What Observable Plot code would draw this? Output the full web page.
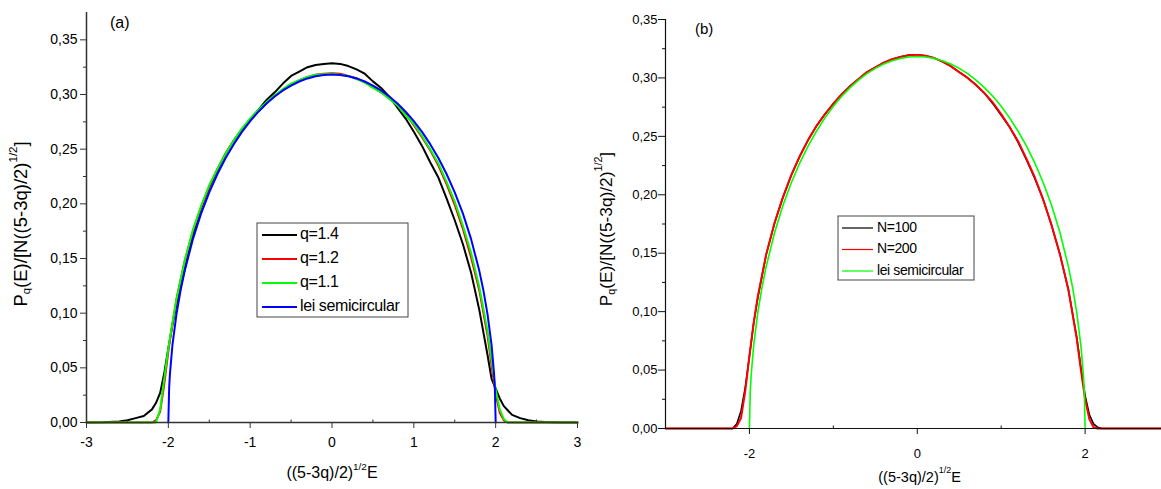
<!DOCTYPE html>
<html><head><meta charset="utf-8">
<script src="https://cdn.jsdelivr.net/npm/d3@7"></script>
<script src="https://cdn.jsdelivr.net/npm/@observablehq/plot@0.6"></script>
<style>
body{margin:0;background:#fff;}
#wrap{position:relative;width:1161px;height:489px;overflow:hidden;background:#fff;}
#a{position:absolute;left:0;top:0;}
#b{position:absolute;left:580px;top:0;}
svg text{font-family:"Liberation Sans",Arial,sans-serif;}
</style>
</head><body>
<div id="wrap"><div id="a"></div><div id="b"></div></div>
<script>
// ---------- Panel (a) data ----------
const xA = [-3,-2.8,-2.6,-2.5,-2.4,-2.3,-2.2,-2.15,-2.1,-2.05,-2.0,-1.95,-1.9,-1.8,-1.7,-1.6,-1.5,-1.4,-1.3,-1.2,-1.1,-1.0,-0.9,-0.8,-0.7,-0.6,-0.5,-0.4,-0.3,-0.2,-0.1,0,0.1,0.2,0.3,0.4,0.5,0.6,0.7,0.8,0.9,1.0,1.1,1.2,1.3,1.4,1.5,1.6,1.7,1.8,1.9,1.95,2.0,2.05,2.1,2.15,2.2,2.3,2.4,2.5,2.6,2.8,3.0];
const q14 = [0,0.0003,0.001,0.002,0.004,0.006,0.012,0.018,0.027,0.045,0.068,0.089,0.108,0.140,0.172,0.196,0.215,0.231,0.246,0.258,0.268,0.277,0.286,0.295,0.302,0.310,0.317,0.321,0.325,0.327,0.328,0.3285,0.328,0.326,0.323,0.319,0.312,0.306,0.298,0.288,0.278,0.266,0.253,0.238,0.224,0.205,0.185,0.163,0.137,0.103,0.062,0.040,0.031,0.022,0.015,0.011,0.007,0.004,0.002,0.001,0.0005,0.0001,0];
const q12 = [0,0,0,0,0,0,0,0.002,0.010,0.035,0.065,0.090,0.113,0.148,0.175,0.197,0.216,0.232,0.246,0.258,0.268,0.277,0.285,0.292,0.299,0.304,0.309,0.313,0.316,0.318,0.319,0.3195,0.319,0.317,0.315,0.311,0.307,0.302,0.297,0.290,0.282,0.272,0.261,0.249,0.235,0.218,0.199,0.177,0.151,0.121,0.080,0.052,0.026,0.009,0.002,0,0,0,0,0,0,0,0];
const q11 = [0,0,0,0,0,0,0,0,0.012,0.040,0.068,0.091,0.113,0.148,0.176,0.198,0.217,0.232,0.246,0.258,0.269,0.278,0.286,0.293,0.299,0.305,0.310,0.313,0.316,0.318,0.3185,0.319,0.318,0.317,0.314,0.311,0.306,0.302,0.296,0.290,0.281,0.273,0.262,0.250,0.237,0.220,0.202,0.180,0.155,0.124,0.084,0.057,0.030,0.012,0.003,0,0,0,0,0,0,0,0];
// semicircle law values
const xSemi = [-2,-1.99,-1.98,-1.95,-1.9,-1.85,-1.8,-1.7,-1.6,-1.5,-1.4,-1.3,-1.2,-1.1,-1.0,-0.9,-0.8,-0.7,-0.6,-0.5,-0.4,-0.3,-0.2,-0.1,0,0.1,0.2,0.3,0.4,0.5,0.6,0.7,0.8,0.9,1.0,1.1,1.2,1.3,1.4,1.5,1.6,1.7,1.8,1.85,1.9,1.95,1.98,1.99,2];
const semi = [0,0.0318,0.0449,0.0707,0.0994,0.1209,0.1387,0.1677,0.1910,0.2105,0.2273,0.2419,0.2546,0.2658,0.2757,0.2843,0.2917,0.2982,0.3037,0.3082,0.3119,0.3147,0.3167,0.3179,0.3183,0.3179,0.3167,0.3147,0.3119,0.3082,0.3037,0.2982,0.2917,0.2843,0.2757,0.2658,0.2546,0.2419,0.2273,0.2105,0.1910,0.1677,0.1387,0.1209,0.0994,0.0707,0.0449,0.0318,0];
const legendA = ["q=1.4","q=1.2","q=1.1","lei semicircular"];
const xTicksA = [-3,-2,-1,0,1,2,3];
const xMinorA = [-2.5,-1.5,-0.5,0.5,1.5,2.5];
const yTicks = [0,0.05,0.10,0.15,0.20,0.25,0.30,0.35];
const yMinor = [0.025,0.075,0.125,0.175,0.225,0.275,0.325];

// ---------- Panel (b) data ----------
const xB = [-3,-2.5,-2.2,-2.15,-2.1,-2.05,-2.0,-1.95,-1.9,-1.8,-1.7,-1.6,-1.5,-1.4,-1.3,-1.2,-1.1,-1.0,-0.9,-0.8,-0.7,-0.6,-0.5,-0.4,-0.3,-0.2,-0.1,0,0.1,0.2,0.3,0.4,0.5,0.6,0.7,0.8,0.9,1.0,1.1,1.2,1.3,1.4,1.5,1.6,1.7,1.8,1.9,1.95,2.0,2.05,2.1,2.15,2.2,2.5,2.9];
const n100 = [0,0,0,0.004,0.015,0.035,0.062,0.090,0.112,0.149,0.176,0.198,0.217,0.233,0.247,0.259,0.269,0.278,0.286,0.293,0.299,0.305,0.309,0.313,0.316,0.318,0.3195,0.3198,0.319,0.317,0.314,0.310,0.305,0.300,0.294,0.287,0.278,0.268,0.258,0.245,0.230,0.214,0.196,0.174,0.149,0.119,0.078,0.052,0.028,0.012,0.004,0.001,0,0,0];
const n200 = [0,0,0,0.002,0.009,0.032,0.062,0.090,0.113,0.149,0.176,0.198,0.217,0.233,0.247,0.259,0.269,0.278,0.286,0.293,0.299,0.305,0.309,0.313,0.316,0.318,0.3195,0.3197,0.319,0.317,0.314,0.310,0.305,0.300,0.294,0.287,0.279,0.269,0.258,0.246,0.231,0.215,0.196,0.174,0.149,0.119,0.077,0.050,0.025,0.008,0.001,0,0,0,0];
const legendB = ["N=100","N=200","lei semicircular"];
const xTicksB = [-2,0,2];
const xMinorB = [-1,1];

const FONT = '"Liberation Sans",Arial,sans-serif';
const pts = (xs, ys) => xs.map((x, i) => ({x, y: ys[i]}));
const comma = d => d.toFixed(2).replace(".", ",");
const tickUp = {draw(ctx){ ctx.moveTo(0,0); ctx.lineTo(0,-3); }};

// ---------- Panel (a) ----------
const chartA = Plot.plot({
  width: 580, height: 489,
  marginLeft: 86, marginRight: 3, marginTop: 12, marginBottom: 67,
  x: {domain: [-3, 3]},
  y: {domain: [0, 0.375]},
  style: {fontFamily: FONT, fontSize: "14px", color: "#000", background: "transparent", overflow: "visible"},
  marks: [
    Plot.line(pts(xA, q14), {x: "x", y: "y", stroke: "#000", strokeWidth: 2}),
    Plot.line(pts(xA, q12), {x: "x", y: "y", stroke: "#ff0000", strokeWidth: 2}),
    Plot.line(pts(xA, q11), {x: "x", y: "y", stroke: "#00ff00", strokeWidth: 2}),
    Plot.line(pts(xSemi, semi), {x: "x", y: "y", stroke: "#0000ff", strokeWidth: 2}),
    Plot.ruleY([0], {x1: -3, x2: 3, stroke: "#333", strokeWidth: 1.5}),
    Plot.ruleX([-3], {y1: 0, y2: 0.375, stroke: "#333", strokeWidth: 1.5}),
    Plot.axisX({ticks: xTicksA, tickSize: 6, tickPadding: 9, tickFormat: d => String(d), label: null, stroke: "#333"}),
    Plot.dot(xMinorA, {x: d => d, frameAnchor: "bottom", symbol: tickUp, r: 3, stroke: "#333", strokeWidth: 1, fill: "none"}),
    Plot.axisY({ticks: yTicks, tickSize: 6, tickPadding: 3, tickFormat: comma, label: null, stroke: "#333"}),
    Plot.axisY({ticks: yMinor, tickSize: 3, tickFormat: () => "", label: null, stroke: "#333"})
  ]
});
document.getElementById("a").appendChild(chartA);

// ---------- Panel (b) ----------
const chartB = Plot.plot({
  width: 581, height: 489,
  marginLeft: 85, marginRight: 0, marginTop: 19, marginBottom: 61,
  x: {domain: [-3, 2.91]},
  y: {domain: [0, 0.35]},
  style: {fontFamily: FONT, fontSize: "13px", color: "#000", background: "transparent", overflow: "visible"},
  marks: [
    Plot.line(pts(xB, n100), {x: "x", y: "y", stroke: "#000", strokeWidth: 1.6}),
    Plot.line(pts(xB, n200), {x: "x", y: "y", stroke: "#ff0000", strokeWidth: 2}),
    Plot.line(pts(xSemi, semi), {x: "x", y: "y", stroke: "#00ff00", strokeWidth: 1.6}),
    Plot.ruleY([0], {x1: -3, x2: 2.91, stroke: "#111", strokeWidth: 1.2}),
    Plot.ruleX([-3], {y1: 0, y2: 0.35, stroke: "#111", strokeWidth: 1.2}),
    Plot.axisX({ticks: xTicksB, tickSize: 6, tickPadding: 14, tickFormat: d => String(d), label: null, stroke: "#111"}),
    Plot.dot(xMinorB, {x: d => d, frameAnchor: "bottom", symbol: tickUp, r: 3, stroke: "#111", strokeWidth: 1, fill: "none"}),
    Plot.axisY({ticks: yTicks, tickSize: 7, tickPadding: 1, tickFormat: comma, label: null, stroke: "#111"}),
    Plot.axisY({ticks: yMinor, tickSize: 3, tickFormat: () => "", label: null, stroke: "#111"})
  ]
});
document.getElementById("b").appendChild(chartB);

// ---------- Titles, labels, legends ----------
function xTitle(svg, cx, cy, fs) {
  const t = svg.append("text").attr("x", cx).attr("y", cy).attr("text-anchor", "middle")
    .attr("font-size", fs).attr("fill", "#000").attr("dominant-baseline", "middle");
  t.append("tspan").text("((5-3q)/2)");
  t.append("tspan").attr("dy", -7).attr("font-size", fs * 0.62).text("1/2");
  t.append("tspan").attr("dy", 7).text("E");
}
function yTitle(svg, cx, cy, fs) {
  const t = svg.append("text").attr("transform", `translate(${cx},${cy}) rotate(-90)`)
    .attr("text-anchor", "middle").attr("font-size", fs).attr("fill", "#000")
    .attr("dominant-baseline", "middle");
  t.append("tspan").text("P");
  t.append("tspan").attr("dy", 5).attr("font-size", fs * 0.62).text("q");
  t.append("tspan").attr("dy", -5).text("(E)/[N((5-3q)/2)");
  t.append("tspan").attr("dy", -8).attr("font-size", fs * 0.62).text("1/2");
  t.append("tspan").attr("dy", 8).text("]");
}
function legend(svg, labels, colors, o) {
  svg.append("rect").attr("x", o.x).attr("y", o.y).attr("width", o.w).attr("height", o.h)
    .attr("fill", "#fff").attr("stroke", "#444").attr("stroke-width", 1);
  labels.forEach((lab, i) => {
    const yy = o.y0 + i * o.dy;
    svg.append("line").attr("x1", o.lx1).attr("x2", o.lx2).attr("y1", yy).attr("y2", yy)
      .attr("stroke", colors[i]).attr("stroke-width", o.sw);
    svg.append("text").attr("x", o.tx).attr("y", yy).attr("dominant-baseline", "middle")
      .attr("text-anchor", "start")
      .attr("font-size", o.fs).attr("letter-spacing", "-0.4px").attr("fill", "#000").text(lab);
  });
}

const sA = d3.select(chartA);
xTitle(sA, 332, 474, 16);
yTitle(sA, 22, 224, 18.5);
sA.append("text").attr("x", 110).attr("y", 24).attr("dominant-baseline", "middle").attr("text-anchor", "start")
  .attr("font-size", 16).attr("fill", "#000").text("(a)");
legend(sA, legendA, ["#000", "#ff0000", "#00ff00", "#0000ff"],
  {x: 257, y: 223, w: 151, h: 94, y0: 235, dy: 24, lx1: 262, lx2: 297, tx: 300, fs: 16, sw: 2});

const sB = d3.select(chartB);
xTitle(sB, 919.6 - 580, 478, 14.5);
yTitle(sB, 607 - 580, 229, 17.3);
sB.append("text").attr("x", 695 - 580).attr("y", 30).attr("dominant-baseline", "middle").attr("text-anchor", "start")
  .attr("font-size", 15).attr("fill", "#000").text("(b)");
legend(sB, legendB, ["#000", "#ff0000", "#00ff00"],
  {x: 838 - 580, y: 216, w: 136, h: 64, y0: 228, dy: 21.5, lx1: 842 - 580, lx2: 873 - 580, tx: 877 - 580, fs: 14, sw: 1.2});
</script>
</body></html>
